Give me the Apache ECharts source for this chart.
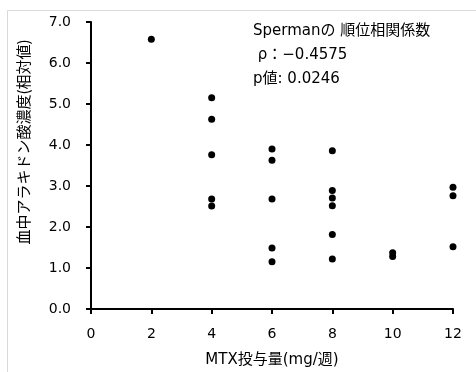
<!DOCTYPE html>
<html><head><meta charset="utf-8">
<script src="https://cdn.jsdelivr.net/npm/echarts@6/dist/echarts.min.js"></script>
<style>html,body{margin:0;padding:0;background:#fff}#c{width:476px;height:372px}</style>
</head><body><div id="c"></div>
<script>
const dose = [2, 4,4,4,4,4, 6,6,6,6,6, 8,8,8,8,8,8, 10,10, 12,12,12];
const aa   = [6.58, 5.15,4.63,3.76,2.68,2.51, 3.90,3.63,2.68,1.49,1.15, 3.86,2.89,2.71,2.52,1.82,1.22, 1.37,1.28, 2.97,2.76,1.52];
const xTicks = [0,2,4,6,8,10,12];
const yTicks = [0,1,2,3,4,5,6,7];
const xTitle = 'MTX投与量(mg/週)';
const yTitle = '血中アラキドン酸濃度(相対値)';
const annot = ['Spermanの 順位相関係数', ' ρ：−0.4575', 'p値: 0.0246'];

const chart = echarts.init(document.getElementById('c'), null, {renderer:'canvas'});
const font = '"DejaVu Sans", "Noto Sans CJK JP", sans-serif';
const jp = '"Noto Sans CJK JP", sans-serif';
const tick = {show:true, inside:false, length:5, lineStyle:{color:'#000', width:2, opacity:1}};
chart.setOption({
  animation:false,
  backgroundColor:'#fff',
  grid:{left:91, right:23, top:22, bottom:63, containLabel:false, outerBoundsMode:'none'},
  xAxis:{type:'value', min:xTicks[0], max:xTicks[xTicks.length-1], interval:2,
    name:xTitle, nameLocation:'middle', nameGap:44,
    nameTextStyle:{fontSize:15, color:'#000', fontFamily:font},
    axisLine:{show:true, onZero:false, lineStyle:{color:'#000', width:2, opacity:1}},
    axisTick:tick,
    axisLabel:{fontSize:14, color:'#000', margin:18, fontFamily:font},
    splitLine:{show:false}},
  yAxis:{type:'value', min:yTicks[0], max:yTicks[yTicks.length-1], interval:1,
    axisLine:{show:true, onZero:false, lineStyle:{color:'#000', width:2, opacity:1}},
    axisTick:tick,
    axisLabel:{fontSize:14, color:'#000', margin:20, fontFamily:font, formatter:v=>v.toFixed(1)},
    splitLine:{show:false}},
  series:[{type:'scatter', data:dose.map((d,i)=>[d,aa[i]]), symbolSize:7,
    itemStyle:{color:'#000', opacity:1}}],
  graphic:[
    {type:'rect', shape:{x:7.5, y:10.5, width:500, height:400}, style:{fill:'none', stroke:'#d9d9d9', lineWidth:1}, z:-1},
    {type:'text', x:23, y:142, rotation:Math.PI/2, style:{text:yTitle, fontSize:15, fill:'#000', fontFamily:jp, align:'center', verticalAlign:'middle'}},
    {type:'text', left:253, top:24, style:{text:annot[0], fontSize:15, fill:'#000', fontFamily:font}},
    {type:'text', left:253, top:48, style:{text:annot[1], fontSize:15, fill:'#000', fontFamily:font}},
    {type:'text', left:253, top:72, style:{text:annot[2], fontSize:15, fill:'#000', fontFamily:font}}
  ]
});
</script></body></html>
